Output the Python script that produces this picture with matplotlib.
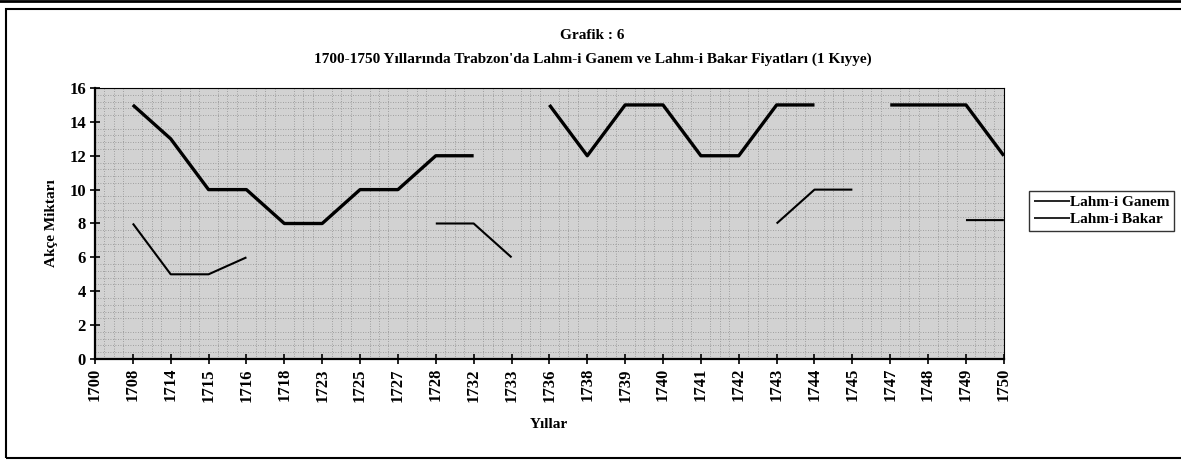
import numpy as np
import matplotlib
matplotlib.use("Agg")
import matplotlib.pyplot as plt
from matplotlib.patches import Rectangle
from matplotlib.lines import Line2D

# data (NaN = no value that year)
years = ["1700", "1708", "1714", "1715", "1716", "1718", "1723", "1725", "1727",
         "1728", "1732", "1733", "1736", "1738", "1739", "1740", "1741", "1742",
         "1743", "1744", "1745", "1747", "1748", "1749", "1750"]
nan = np.nan
ganem = [nan, 15, 13, 10, 10, 8, 8, 10, 10, 12, 12, nan, 15, 12, 15, 15, 12, 12,
         15, 15, nan, 15, 15, 15, 12]
bakar = [nan, 8, 5, 5, 6, nan, nan, nan, nan, 8, 8, 6, nan, nan, nan, nan, nan, nan,
         8, 10, 10, nan, nan, 8.2, 8.2]

plt.rcParams['font.family'] = ['Liberation Serif', 'DejaVu Serif']
plt.rcParams['font.weight'] = 'bold'

fig = plt.figure(figsize=(11.81, 4.61), dpi=100)
ax = fig.add_axes([0.0804, 0.2213, 0.7696, 0.5878])

x = np.arange(len(years))
ax.set_facecolor('#d2d2d2')
ax.plot(x, ganem, color='black', lw=2.4, label='Lahm-i Ganem', solid_capstyle='butt')
ax.plot(x, bakar, color='black', lw=1.5, label='Lahm-i Bakar', solid_capstyle='butt')

ax.set_xlim(0, len(years) - 1)
ax.set_ylim(0, 16)
ax.set_yticks(range(0, 17, 2))
ax.set_xticks(x)
ax.set_xticklabels(years, rotation=90)
ax.tick_params(direction='inout', length=7, width=1.2, labelsize=12, pad=3)
for lab in ax.get_xticklabels() + ax.get_yticklabels():
    lab.set_fontweight('bold')

# stippled look of the plot area
ax.set_xticks(np.arange(0, len(years) - 1, 0.25), minor=True)
ax.set_yticks(np.arange(0, 16, 0.4), minor=True)
ax.tick_params(which='minor', length=0)
ax.grid(which='minor', color='#8e8e8e', linestyle=(0, (1, 2)), linewidth=0.6)
ax.set_axisbelow(True)

for s in ['left', 'bottom']:
    ax.spines[s].set_linewidth(1.6)
for s in ['top', 'right']:
    ax.spines[s].set_linewidth(0.8)

ax.set_ylabel('Akçe Miktarı', fontsize=11, fontweight='bold', labelpad=8)
ax.set_xlabel('Yıllar', fontsize=11, fontweight='bold', labelpad=12)

fig.text(0.5015, 0.922, 'Grafik : 6', ha='center', va='center', fontsize=11, fontweight='bold')
fig.text(0.502, 0.872, "1700-1750 Yıllarında Trabzon'da Lahm-i Ganem ve Lahm-i Bakar Fiyatları (1 Kıyye)",
         ha='center', va='center', fontsize=11, fontweight='bold')

leg = fig.legend(loc='upper left', bbox_to_anchor=(1029 / 1181, 1 - 191 / 461), frameon=True,
                 fancybox=False, edgecolor='black', fontsize=11, handlelength=2.4,
                 handletextpad=0.0, borderpad=0.3, labelspacing=0.2, borderaxespad=0)
leg.get_frame().set_linewidth(1.0)
for t in leg.get_texts():
    t.set_fontweight('bold')
leg.get_lines()[0].set_linewidth(1.2)
leg.get_lines()[1].set_linewidth(1.2)

# page frame
fig.patches.append(Rectangle((6 / 1181, 1 - 458 / 461), 1.0, (458 - 9) / 461,
                             transform=fig.transFigure, fill=False, edgecolor='black', lw=1.5))
fig.lines.append(Line2D([0, 1], [0.998, 0.998], transform=fig.transFigure, color='black', lw=2))

fig.savefig('out.png', dpi=100)
